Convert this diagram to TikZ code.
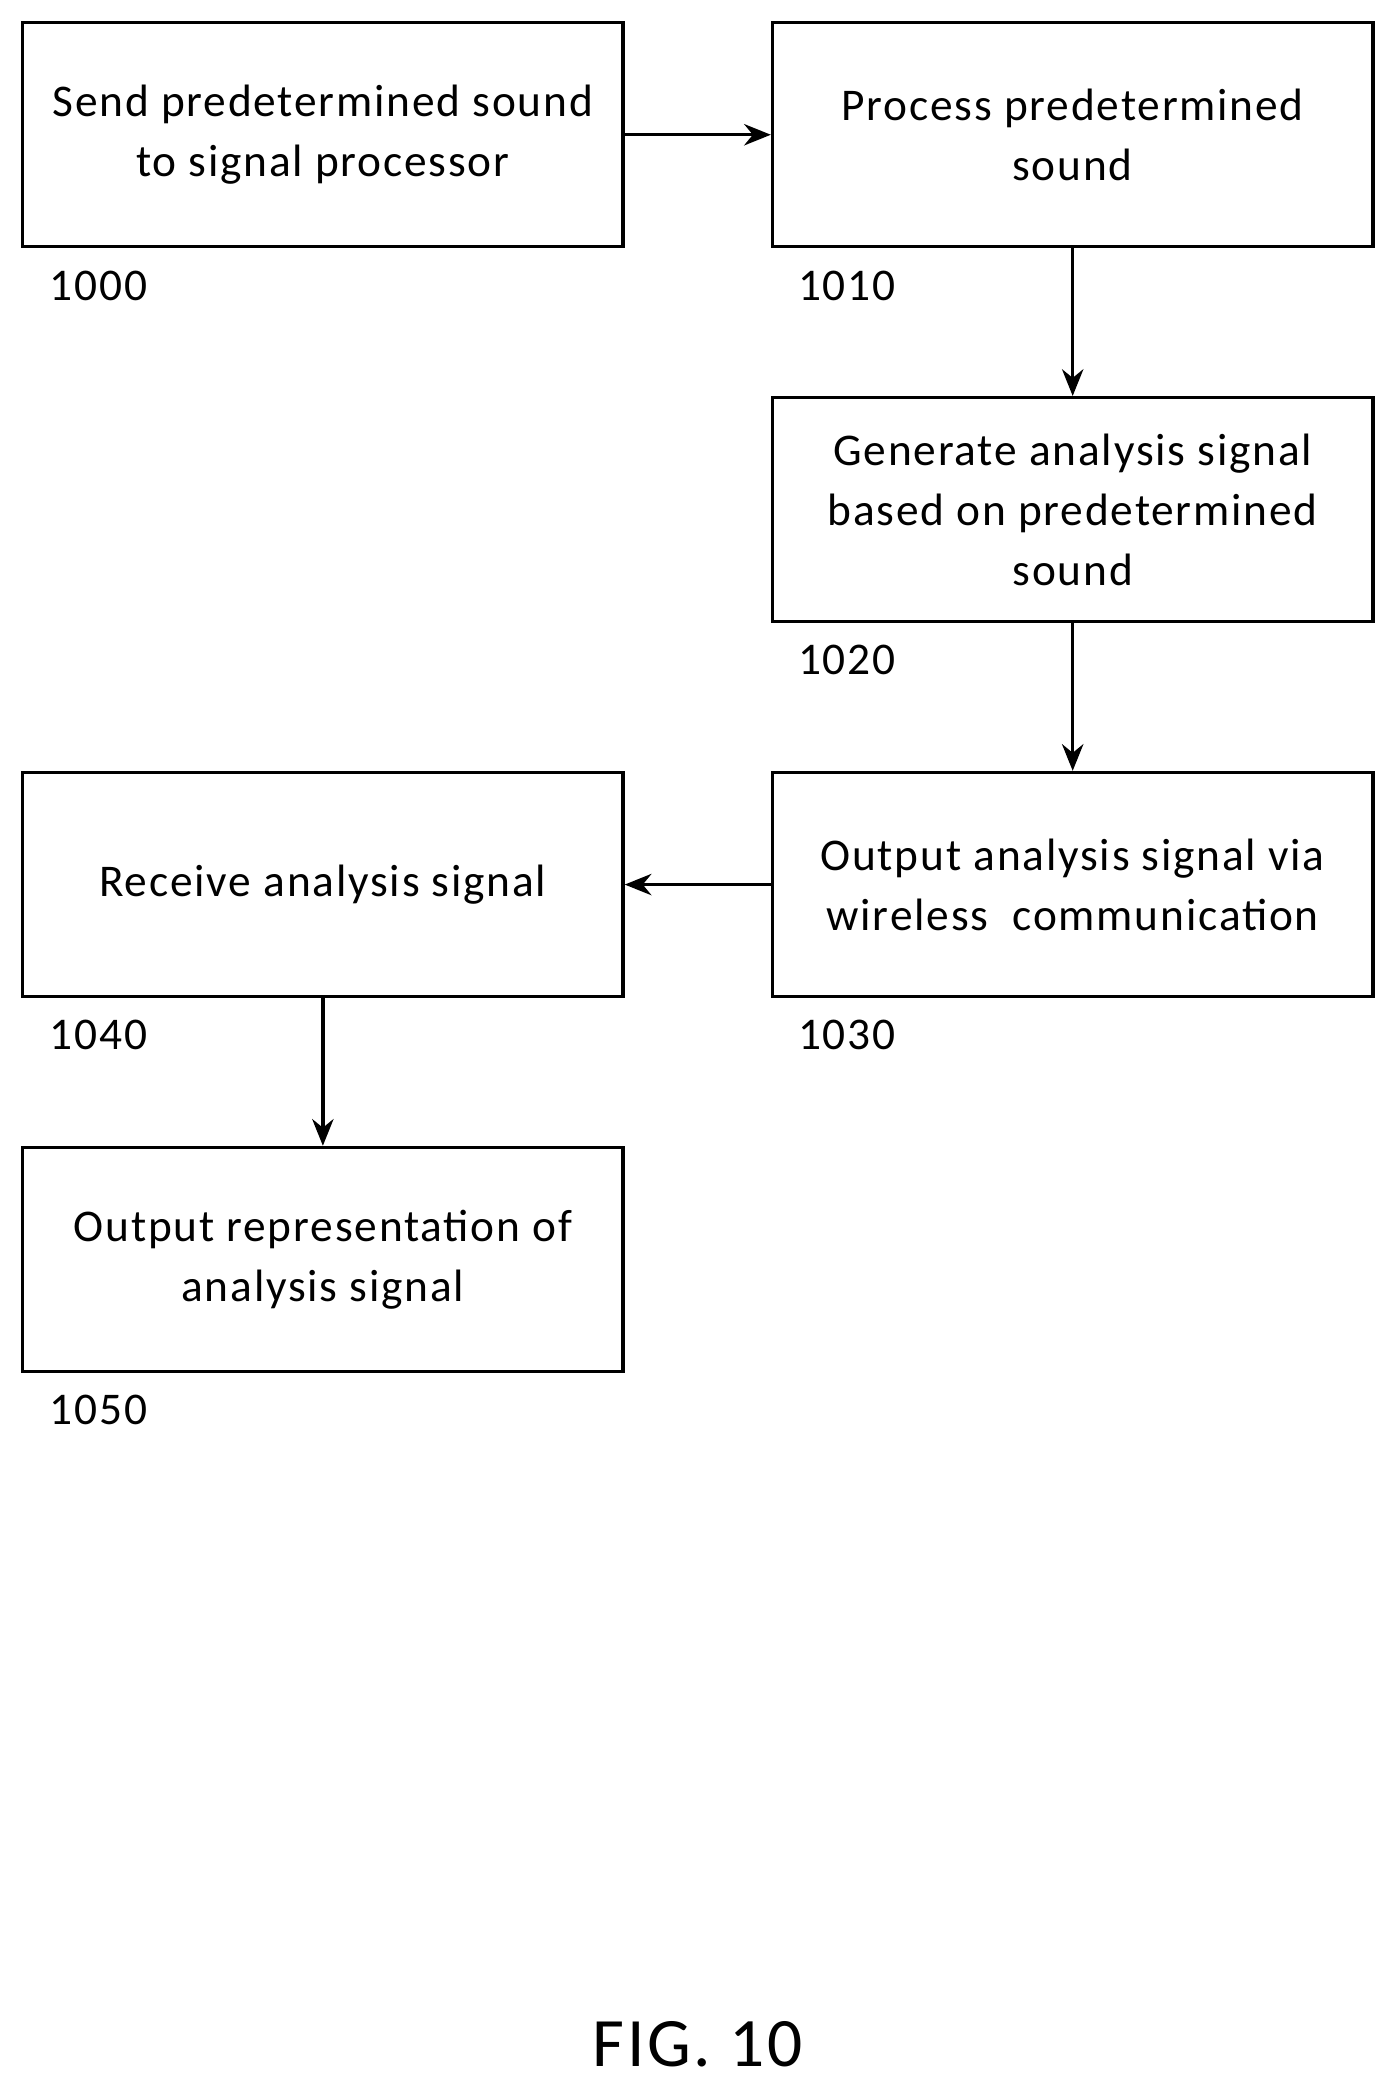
\documentclass[tikz,border=0pt]{standalone}
\usepackage{fontspec}
\setmainfont{Carlito}[LetterSpace=4]
\usetikzlibrary{arrows.meta}
\begin{document}
\begin{tikzpicture}[x=1pt,y=-1pt,
 box/.style={draw,line width=2.5pt,minimum width=450pt,minimum height=168pt,align=center,font=\fontsize{34}{45}\selectfont,inner sep=0pt},
 lab/.style={anchor=west,font=\fontsize{34}{36}\selectfont,inner sep=0pt},
 arr/.style={-{Stealth[length=20pt,width=16pt]},line width=2.5pt}]
\useasboundingbox (0,0) rectangle (1046,1568);
\node[box] (a) at (242,101) {Send predetermined sound\\to signal processor};
\node[box] (b) at (804,101) {Process predetermined\\sound};
\node[box] (c) at (804,382) {Generate analysis signal\\based on predetermined\\sound};
\node[box] (d) at (804,663) {Output analysis signal via\\wireless\ \ communication};
\node[box] (e) at (242,663) {Receive analysis signal};
\node[box] (f) at (242,944) {Output representation of\\analysis signal};
\node[lab] (la) at (37,214) {1000};
\node[lab] (lb) at (598,214) {1010};
\node[lab] (lc) at (598,495) {1020};
\node[lab] (ld) at (598,776) {1030};
\node[lab] (le) at (37,776) {1040};
\node[lab] (lf) at (37,1057) {1050};
\node[font=\fontsize{52}{56}\selectfont] (fig) at (523,1532) {FIG. 10};
\draw[arr] (a) -- (b);
\draw[arr] (b) -- (c);
\draw[arr] (c) -- (d);
\draw[arr] (d) -- (e);
\draw[arr] (e) -- (f);
\end{tikzpicture}
\end{document}
